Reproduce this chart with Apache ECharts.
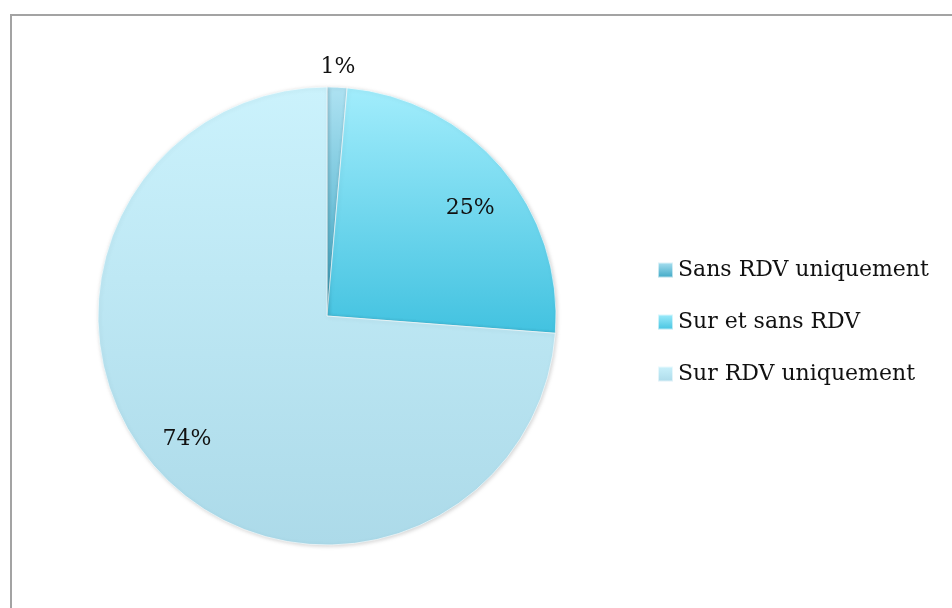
<!DOCTYPE html>
<html>
<head>
<meta charset="utf-8">
<script src="https://cdn.jsdelivr.net/npm/echarts@6/dist/echarts.min.js"></script>
<style>
  html, body { margin: 0; padding: 0; background: #fff; }
  #chart { width: 952px; height: 608px; }
</style>
</head>
<body>
<div id="chart"></div>
<script>
const categories = ["Sans RDV uniquement", "Sur et sans RDV", "Sur RDV uniquement"];
const values = [1.4, 24.8, 73.8];

// vertical gradients, light at top, darker at bottom
const sliceColors = [
  ["#aee2f2", "#3aa6c4"],
  ["#a2edfc", "#42c2e0"],
  ["#cbf2fc", "#acdae9"],
];
// small nudges so the percentages sit where Excel put them
const labelNudge = [[0, 0], [6, 9], [-8, 1]];

const serif = "'DejaVu Serif', 'Liberation Serif', serif";
const center = [327, 316];

function grad(pair) {
  return new echarts.graphic.LinearGradient(0, 0, 0, 1, [
    { offset: 0, color: pair[0] },
    { offset: 1, color: pair[1] },
  ]);
}

const chart = echarts.init(document.getElementById("chart"));

const pieData = categories.map((name, i) => ({
  name,
  value: values[i],
  itemStyle: { color: grad(sliceColors[i]) },
}));

// transparent rings only used to place the percentage labels
function labelRing(radius, showIndex) {
  return {
    type: "pie",
    silent: true,
    center,
    radius,
    startAngle: 90,
    percentPrecision: 0,
    animation: false,
    itemStyle: { color: "transparent" },
    labelLine: { show: false },
    label: {
      position: "inside",
      fontFamily: serif,
      fontSize: 22,
      color: "#111",
      formatter: (p) => (showIndex.includes(p.dataIndex) ? p.percent + "%" : ""),
    },
    data: categories.map((name, i) => ({
      name: name + " ",
      value: values[i],
      label: { offset: labelNudge[i] },
    })),
    legendHoverLink: false,
  };
}

chart.setOption({
  animation: false,
  graphic: [
    {
      type: "rect",
      shape: { x: 11, y: 15, width: 1000, height: 700 },
      style: { fill: "none", stroke: "#a3a3a3", lineWidth: 2 },
      z: -10,
    },
  ],
  legend: {
    data: categories,
    orient: "vertical",
    icon: "rect",
    left: 652,
    top: 253,
    itemWidth: 15,
    itemHeight: 15,
    itemGap: 28,
    textStyle: { fontFamily: serif, fontSize: 22, color: "#111", lineHeight: 24 },
  },
  series: [
    {
      type: "pie",
      center,
      radius: 229,
      startAngle: 90,
      clockwise: true,
      label: { show: false },
      labelLine: { show: false },
      itemStyle: {
        borderColor: "rgba(255,255,255,0.6)",
        borderWidth: 1,
        shadowBlur: 4,
        shadowColor: "rgba(0,0,0,0.18)",
        shadowOffsetX: 1,
        shadowOffsetY: 1,
      },
      data: pieData,
    },
    labelRing([160, 194], [1, 2]),
    labelRing([236, 256], [0]),
  ],
});
</script>
</body>
</html>
